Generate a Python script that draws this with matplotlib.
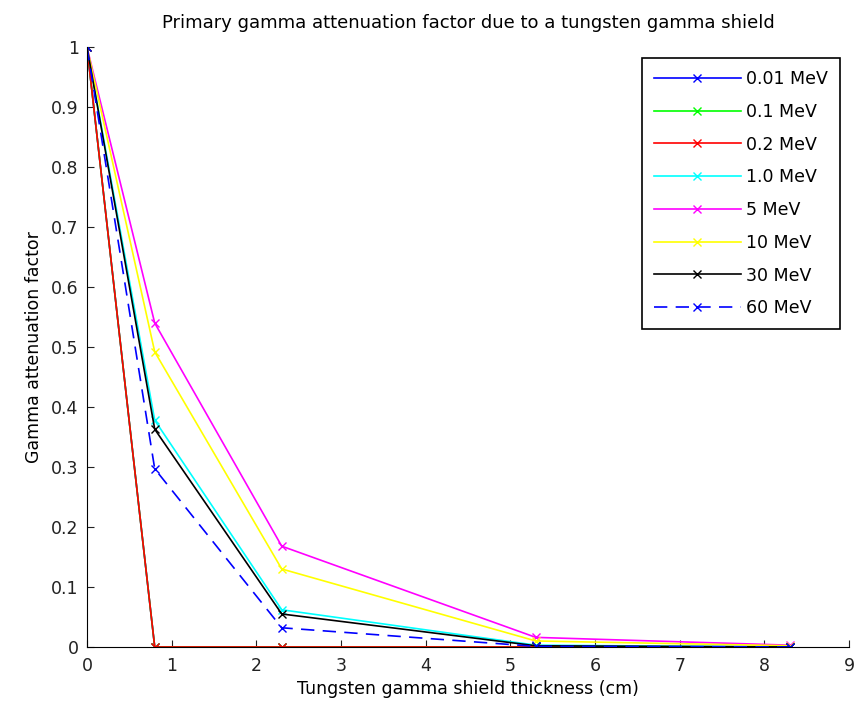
import matplotlib
matplotlib.use("Agg")
import matplotlib.pyplot as plt
from matplotlib.ticker import FormatStrFormatter

# espessura da blindagem de tungstenio (cm)
espessura = [0, 0.8, 2.3, 5.3, 8.3]

energias = ["0.01 MeV", "0.1 MeV", "0.2 MeV", "1.0 MeV", "5 MeV", "10 MeV", "30 MeV", "60 MeV"]
fator_001 = [1, 0, 0, 0, 0]
fator_01 = [1, 0, 0, 0, 0]
fator_02 = [1, 0, 0, 0, 0]
fator_1 = [1, 0.378, 0.062, 0.003, 0]
fator_5 = [1, 0.54, 0.168, 0.016, 0.003]
fator_10 = [1, 0.492, 0.13, 0.01, 0.002]
fator_30 = [1, 0.363, 0.055, 0.002, 0]
fator_60 = [1, 0.297, 0.032, 0.001, 0]

series = [fator_001, fator_01, fator_02, fator_1, fator_5, fator_10, fator_30, fator_60]
cores = ["#0000ff", "#00ff00", "#ff0000", "#00ffff", "#ff00ff", "#ffff00", "#000000", "#0000ff"]
estilos = ["-", "-", "-", "-", "-", "-", "-", "--"]

plt.rcParams["font.family"] = ["DejaVu Sans"]
tam = 12.5

fig = plt.figure(figsize=(8.56, 7.13), dpi=100)
ax = fig.add_axes([0.1016, 0.0926, 0.8904, 0.8414])

for nome, valores, cor, ls in zip(energias, series, cores, estilos):
    ax.plot(espessura, valores, color=cor, linestyle=ls, marker="x", markersize=6,
            linewidth=1.2, label=nome, dashes=(8, 5) if ls == "--" else (None, None))

ax.set_xlim(0, 9)
ax.set_ylim(0, 1)
ax.set_xticks(range(0, 10))
ax.set_yticks([i / 10 for i in range(11)])
ax.yaxis.set_major_formatter(FormatStrFormatter("%g"))
ax.tick_params(direction="in", length=5, labelsize=tam, colors="#222222")
ax.tick_params(axis="x", pad=7)
ax.tick_params(axis="y", pad=6)
ax.spines["top"].set_visible(False)
ax.spines["right"].set_visible(False)
ax.set_xlabel("Tungsten gamma shield thickness (cm)", fontsize=tam, labelpad=4)
ax.set_ylabel("Gamma attenuation factor", fontsize=tam, labelpad=6)
ax.set_title("Primary gamma attenuation factor due to a tungsten gamma shield", fontsize=13, pad=14)

leg = ax.legend(loc="upper right", bbox_to_anchor=(0.988, 0.982), borderaxespad=0, fontsize=tam,
                fancybox=False, edgecolor="black", framealpha=1, handlelength=5.0, borderpad=0.7,
                labelspacing=0.85, handletextpad=0.3)
leg.get_frame().set_linewidth(1.2)

plt.savefig("out.png", dpi=100)
